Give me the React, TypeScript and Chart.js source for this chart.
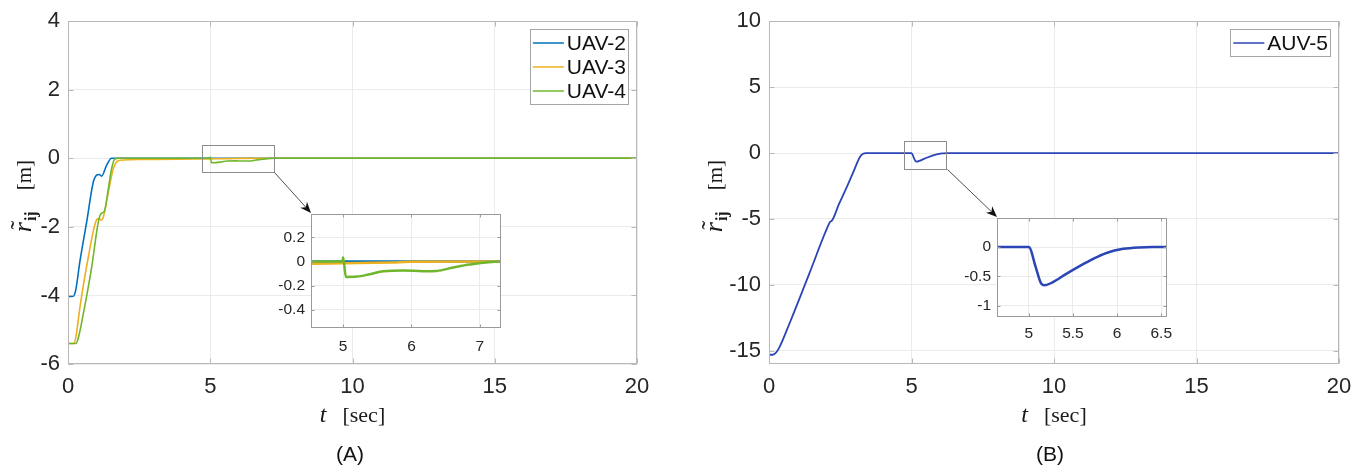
import React, { useEffect, useRef } from "react";
import { Chart, registerables } from "chart.js";

Chart.register(...registerables);

// ---------------- Data: panel (A) ----------------
const uav2Time = [0, 0.18, 0.27, 0.42, 0.66, 0.89, 1.03, 1.1, 1.18, 1.36, 1.53, 1.7, 20];
const uav2Value = [-4.03, -4.02, -3.85, -3.0, -1.84, -0.69, -0.48, -0.47, -0.52, -0.2, 0, 0, 0];

const uav3Time = [0, 0.2, 0.28, 0.42, 0.71, 1.0, 1.08, 1.17, 1.25, 1.42, 1.59, 1.77, 2.2, 3, 4.5, 5.0, 5.7, 6.0, 7.3, 20];
const uav3Value = [-5.4, -5.4, -5.2, -4.34, -2.9, -1.8, -1.76, -1.8, -1.69, -0.98, -0.31, -0.07, -0.04, -0.03, -0.02, -0.015, -0.008, -0.003, 0, 0];

const uav4Time = [0, 0.28, 0.36, 0.54, 0.83, 1.07, 1.18, 1.27, 1.42, 1.53, 1.65, 1.8, 4.99, 5.0, 5.04, 5.2, 5.39, 5.59, 5.88, 6.17, 6.37, 6.61, 6.85, 7.3, 20];
const uav4Value = [-5.4, -5.4, -5.25, -4.53, -3.19, -1.84, -1.6, -1.56, -0.88, -0.31, -0.02, 0, 0, 0.035, -0.128, -0.125, -0.105, -0.08, -0.075, -0.08, -0.078, -0.05, -0.025, 0, 0];

// ---------------- Data: panel (B) ----------------
const auv5Time = [0, 0.12, 0.22, 0.35, 0.73, 1.4, 2.1, 2.15, 2.2, 2.45, 2.72, 2.95, 3.19, 3.3, 3.4, 5.0, 5.08, 5.14, 5.18, 5.27, 5.42, 5.58, 5.73, 5.88, 6.07, 6.25, 6.4, 20];
const auv5Value = [-15.3, -15.3, -15.2, -14.8, -12.87, -9.22, -5.4, -5.2, -5.15, -3.9, -2.63, -1.49, -0.3, -0.06, 0, 0, -0.35, -0.62, -0.65, -0.6, -0.46, -0.32, -0.2, -0.1, -0.03, -0.005, 0, 0];

// ---------------- Axis ranges / ticks ----------------
const panelAXRange = [0, 20];
const panelAXStep = 5;
const panelAYRange = [-6, 4];
const panelAYStep = 2;
const insetAXRange = [4.53, 7.31];
const insetAXStep = 1;
const insetAYRange = [-0.55, 0.39];
const insetAYStep = 0.2;
const zoomAXRange = [4.7, 7.23];
const zoomAYRange = [-0.41, 0.39];

const panelBXRange = [0, 20];
const panelBXStep = 5;
const panelBYRange = [-16, 10];
const panelBYStep = 5;
const insetBXRange = [4.64, 6.565];
const insetBXStep = 0.5;
const insetBYRange = [-1.19, 0.49];
const insetBYStep = 0.5;
const zoomBXRange = [4.74, 6.23];
const zoomBYRange = [-1.18, 0.94];

const panelALabels = ["UAV-2", "UAV-3", "UAV-4"];
const panelAColors = ["#0072BD", "#EDB120", "#70B62C"];
const panelBLabels = ["AUV-5"];
const panelBColors = ["#2A45B5"];

const panelTitles = ["(A)", "(B)"];

type Series = { label: string; t: number[]; v: number[]; color: string };

const seriesA: Series[] = [
  { label: panelALabels[0], t: uav2Time, v: uav2Value, color: panelAColors[0] },
  { label: panelALabels[1], t: uav3Time, v: uav3Value, color: panelAColors[1] },
  { label: panelALabels[2], t: uav4Time, v: uav4Value, color: panelAColors[2] },
];
const seriesB: Series[] = [
  { label: panelBLabels[0], t: auv5Time, v: auv5Value, color: panelBColors[0] },
];

// ---------------- Layout constants ----------------
const SANS = "'Liberation Sans', Arial, sans-serif";
const SERIF = "'Liberation Serif', 'Times New Roman', serif";
const TICK_COLOR = "#262626";
const GRID_COLOR = "#ebebeb";
const FRAME_COLOR = "#b8b8b8";

const PANEL_W = 682;
const PANEL_H = 474;

const fmt = (v: number) => String(Number(Number(v).toFixed(3)));

// ---------------- Plugins ----------------
function framePlugin(color: string, tickLen: number, fillWhite: boolean) {
  return {
    id: "frame",
    beforeDraw(chart: any) {
      if (!fillWhite) return;
      const a = chart.chartArea;
      const ctx = chart.ctx;
      ctx.save();
      ctx.fillStyle = "#ffffff";
      ctx.fillRect(a.left, a.top, a.right - a.left, a.bottom - a.top);
      ctx.restore();
    },
    afterDatasetsDraw(chart: any) {
      const a = chart.chartArea;
      const ctx = chart.ctx;
      const xs = chart.scales.x;
      const ys = chart.scales.y;
      ctx.save();
      ctx.strokeStyle = color;
      ctx.lineWidth = 1;
      const l = Math.round(a.left) + 0.5;
      const r = Math.round(a.right) - 0.5;
      const t = Math.round(a.top) + 0.5;
      const b = Math.round(a.bottom) - 0.5;
      ctx.strokeRect(l, t, r - l, b - t);
      ctx.beginPath();
      for (const tk of xs.ticks) {
        const px = Math.round(xs.getPixelForValue(tk.value)) + 0.5;
        ctx.moveTo(px, b);
        ctx.lineTo(px, b - tickLen);
        ctx.moveTo(px, t);
        ctx.lineTo(px, t + tickLen);
      }
      for (const tk of ys.ticks) {
        const py = Math.round(ys.getPixelForValue(tk.value)) + 0.5;
        ctx.moveTo(l, py);
        ctx.lineTo(l + tickLen, py);
        ctx.moveTo(r, py);
        ctx.lineTo(r - tickLen, py);
      }
      ctx.stroke();
      ctx.restore();
    },
  };
}

function zoomMarkPlugin(xr: number[], yr: number[], target: { x: number; y: number }) {
  return {
    id: "zoomMark",
    afterDatasetsDraw(chart: any) {
      const ctx = chart.ctx;
      const xs = chart.scales.x;
      const ys = chart.scales.y;
      const x0 = xs.getPixelForValue(xr[0]);
      const x1 = xs.getPixelForValue(xr[1]);
      const y0 = ys.getPixelForValue(yr[1]);
      const y1 = ys.getPixelForValue(yr[0]);
      ctx.save();
      ctx.strokeStyle = "#8c8c8c";
      ctx.lineWidth = 1;
      ctx.strokeRect(Math.round(x0) + 0.5, Math.round(y0) + 0.5, Math.round(x1 - x0), Math.round(y1 - y0));
      const sx = Math.round(x1) + 0.5;
      const sy = Math.round(y1) + 0.5;
      const tx = target.x;
      const ty = target.y;
      const ang = Math.atan2(ty - sy, tx - sx);
      const headL = 11;
      const headW = 4.5;
      ctx.strokeStyle = "#3a3a3a";
      ctx.lineWidth = 0.9;
      ctx.beginPath();
      ctx.moveTo(sx, sy);
      ctx.lineTo(tx - Math.cos(ang) * headL * 0.7, ty - Math.sin(ang) * headL * 0.7);
      ctx.stroke();
      ctx.translate(tx, ty);
      ctx.rotate(ang);
      ctx.fillStyle = "#111111";
      ctx.beginPath();
      ctx.moveTo(0, 0);
      ctx.lineTo(-headL, -headW);
      ctx.lineTo(-headL * 0.7, 0);
      ctx.lineTo(-headL, headW);
      ctx.closePath();
      ctx.fill();
      ctx.restore();
    },
  };
}

function axisTitlePlugin(yTitleX: number) {
  return {
    id: "axisTitles",
    afterDraw(chart: any) {
      const ctx = chart.ctx;
      const a = chart.chartArea;
      ctx.save();
      ctx.fillStyle = "#1a1a1a";
      ctx.textAlign = "left";
      ctx.textBaseline = "alphabetic";
      // x title: t  [sec]
      const italic = `italic 24px ${SERIF}`;
      const roman = `22px ${SERIF}`;
      ctx.font = italic;
      const tW = ctx.measureText("t").width;
      ctx.font = roman;
      const sW = ctx.measureText("[sec]").width;
      const gap = 16;
      const total = tW + gap + sW;
      const cx = (a.left + a.right) / 2;
      const by = a.bottom + 58;
      const x0 = cx - total / 2;
      ctx.font = italic;
      ctx.fillText("t", x0, by);
      ctx.font = roman;
      ctx.fillText("[sec]", x0 + tW + gap, by);
      // y title: r~ij  [m]
      const cy = (a.top + a.bottom) / 2 + 3.5;
      ctx.translate(yTitleX, cy);
      ctx.rotate(-Math.PI / 2);
      const rFont = `italic 26px ${SERIF}`;
      const subFont = `bold 16px ${SERIF}`;
      const mFont = `21px ${SERIF}`;
      ctx.font = rFont;
      const rW = ctx.measureText("r").width;
      ctx.font = subFont;
      const ijW = ctx.measureText("ij").width;
      ctx.font = mFont;
      const mW = ctx.measureText("[m]").width;
      const g2 = 21;
      const tot = rW + 1 + ijW + g2 + mW;
      let p = -tot / 2;
      ctx.font = rFont;
      ctx.fillText("r", p, 0);
      ctx.font = `26px ${SERIF}`;
      ctx.textAlign = "center";
      ctx.fillText("\u02DC", p + rW / 2 + 2, -3);
      ctx.textAlign = "left";
      p += rW + 1;
      ctx.font = subFont;
      ctx.fillText("ij", p, 5);
      p += ijW + g2;
      ctx.font = mFont;
      ctx.fillText("[m]", p, 0);
      ctx.restore();
    },
  };
}

const boxLegendPlugin = {
  id: "boxLegend",
  afterDraw(chart: any) {
    const ctx = chart.ctx;
    const a = chart.chartArea;
    const ds = chart.data.datasets;
    ctx.save();
    ctx.font = `21px ${SANS}`;
    const maxW = Math.max(...ds.map((d: any) => ctx.measureText(d.label).width));
    const padL = 3;
    const lineLen = 31;
    const gapT = 3;
    const padR = 2;
    const rowH = 24;
    const boxW = padL + lineLen + gapT + maxW + padR;
    const boxH = ds.length * rowH + 3;
    const right = Math.round(a.right) - 9;
    const top = Math.round(a.top) + 8;
    const left = right - boxW;
    ctx.fillStyle = "#ffffff";
    ctx.fillRect(left, top, boxW, boxH);
    ctx.strokeStyle = "#a6a6a6";
    ctx.lineWidth = 1;
    ctx.strokeRect(Math.round(left) + 0.5, top + 0.5, Math.round(boxW), boxH);
    ctx.textBaseline = "middle";
    ctx.textAlign = "left";
    ds.forEach((d: any, i: number) => {
      const cy = top + 2 + rowH / 2 + i * rowH;
      ctx.strokeStyle = d.borderColor;
      ctx.lineWidth = 1.5;
      ctx.beginPath();
      ctx.moveTo(left + padL, cy);
      ctx.lineTo(left + padL + lineLen, cy);
      ctx.stroke();
      ctx.fillStyle = "#111111";
      ctx.fillText(d.label, left + padL + lineLen + gapT, cy + 1);
    });
    ctx.restore();
  },
};

// ---------------- Config builders ----------------
function makeDatasets(series: Series[], width: number) {
  return series.map((s, idx) => ({
    label: s.label,
    data: s.t.map((t, i) => ({ x: t, y: s.v[i] })),
    borderColor: s.color,
    backgroundColor: s.color,
    borderWidth: width,
    pointRadius: 0,
    cubicInterpolationMode: "monotone",
    fill: false,
    order: -idx,
  }));
}

type MainSpec = {
  series: Series[];
  xr: number[];
  xStep: number;
  yr: number[];
  yStep: number;
  yAxisW: number;
  padRight: number;
  zoomX: number[];
  zoomY: number[];
  arrowTarget: { x: number; y: number };
  yTitleX: number;
  lineW: number;
};

function mainConfig(p: MainSpec): any {
  const plotTop = 17;
  const plotBottom = 364;
  const xAxisH = 60;
  return {
    type: "line",
    data: { datasets: makeDatasets(p.series, p.lineW) },
    options: {
      animation: false,
      responsive: false,
      events: [],
      layout: { padding: { top: plotTop, right: p.padRight, bottom: PANEL_H - plotBottom - xAxisH, left: 0 } },
      plugins: { legend: { display: false }, tooltip: { enabled: false }, title: { display: false } },
      scales: {
        x: {
          type: "linear",
          min: p.xr[0],
          max: p.xr[1],
          ticks: { stepSize: p.xStep, includeBounds: false, maxRotation: 0, padding: 10, color: TICK_COLOR, font: { family: SANS, size: 22 }, callback: fmt },
          grid: { color: GRID_COLOR, drawTicks: false },
          border: { display: false },
          afterFit: (s: any) => { s.height = xAxisH; },
        },
        y: {
          type: "linear",
          min: p.yr[0],
          max: p.yr[1],
          ticks: { stepSize: p.yStep, includeBounds: false, padding: 8, color: TICK_COLOR, font: { family: SANS, size: 22 }, callback: fmt },
          grid: { color: GRID_COLOR, drawTicks: false },
          border: { display: false },
          afterFit: (s: any) => { s.width = p.yAxisW; },
        },
      },
    },
    plugins: [
      framePlugin(FRAME_COLOR, 5, false),
      zoomMarkPlugin(p.zoomX, p.zoomY, p.arrowTarget),
      axisTitlePlugin(p.yTitleX),
      boxLegendPlugin,
    ],
  };
}

type InsetSpec = {
  series: Series[];
  xr: number[];
  xStep: number;
  yr: number[];
  yStep: number;
  yAxisW: number;
  padTop: number;
  padRight: number;
  xAxisH: number;
  xPad: number;
};

function insetConfig(p: InsetSpec): any {
  return {
    type: "line",
    data: { datasets: makeDatasets(p.series, 2.5) },
    options: {
      animation: false,
      responsive: false,
      events: [],
      layout: { padding: { top: p.padTop, right: p.padRight, bottom: 0, left: 0 } },
      plugins: { legend: { display: false }, tooltip: { enabled: false } },
      scales: {
        x: {
          type: "linear",
          min: p.xr[0],
          max: p.xr[1],
          ticks: { stepSize: p.xStep, includeBounds: false, maxRotation: 0, padding: p.xPad, color: TICK_COLOR, font: { family: SANS, size: 15.5 }, callback: fmt },
          grid: { color: GRID_COLOR, drawTicks: false },
          border: { display: false },
          afterFit: (s: any) => { s.height = p.xAxisH; },
        },
        y: {
          type: "linear",
          min: p.yr[0],
          max: p.yr[1],
          ticks: { stepSize: p.yStep, includeBounds: false, padding: 6, color: TICK_COLOR, font: { family: SANS, size: 15.5 }, callback: fmt },
          grid: { color: GRID_COLOR, drawTicks: false },
          border: { display: false },
          afterFit: (s: any) => { s.width = p.yAxisW; },
        },
      },
    },
    plugins: [framePlugin("#9a9a9a", 3, true)],
  };
}

// ---------------- Components ----------------
function ChartCanvas(props: { left: number; top: number; width: number; height: number; config: () => any }) {
  const ref = useRef<HTMLCanvasElement | null>(null);
  useEffect(() => {
    if (!ref.current) return;
    const chart = new Chart(ref.current, props.config());
    return () => chart.destroy();
  }, []);
  return (
    <canvas
      ref={ref}
      width={props.width}
      height={props.height}
      style={{ position: "absolute", left: props.left, top: props.top, width: props.width, height: props.height, display: "block" }}
    />
  );
}

// inset boxes (page pixel coordinates of plot areas)
const insetABox = { left: 311, top: 213, right: 501, bottom: 328 };
const insetBBox = { left: 997, top: 217, right: 1167, bottom: 317 };
const INSET_YAXIS_W = 45;
const INSET_PAD_TOP = 14;
const INSET_XAXIS_H = 32;

export default function App() {
  const insetAW = INSET_YAXIS_W + (insetABox.right - insetABox.left) + 12;
  const insetAH = INSET_PAD_TOP + (insetABox.bottom - insetABox.top) + INSET_XAXIS_H;
  const insetBW = INSET_YAXIS_W + (insetBBox.right - insetBBox.left) + 16;
  const insetBH = INSET_PAD_TOP + (insetBBox.bottom - insetBBox.top) + INSET_XAXIS_H;
  return (
    <div style={{ position: "absolute", left: 0, top: 0, width: 1364, height: 474, background: "#ffffff", overflow: "hidden" }}>
      <ChartCanvas
        left={0}
        top={0}
        width={PANEL_W}
        height={PANEL_H}
        config={() =>
          mainConfig({
            series: seriesA,
            xr: panelAXRange,
            xStep: panelAXStep,
            yr: panelAYRange,
            yStep: panelAYStep,
            yAxisW: 68,
            padRight: PANEL_W - 637,
            zoomX: zoomAXRange,
            zoomY: zoomAYRange,
            arrowTarget: { x: insetABox.left, y: insetABox.top },
            yTitleX: 31,
            lineW: 1.6,
          })
        }
      />
      <ChartCanvas
        left={PANEL_W}
        top={0}
        width={PANEL_W}
        height={PANEL_H}
        config={() =>
          mainConfig({
            series: seriesB,
            xr: panelBXRange,
            xStep: panelBXStep,
            yr: panelBYRange,
            yStep: panelBYStep,
            yAxisW: 769 - PANEL_W,
            padRight: 2 * PANEL_W - 1339,
            zoomX: zoomBXRange,
            zoomY: zoomBYRange,
            arrowTarget: { x: insetBBox.left - PANEL_W, y: insetBBox.top },
            yTitleX: 40,
            lineW: 1.8,
          })
        }
      />
      <ChartCanvas
        left={insetABox.left - INSET_YAXIS_W}
        top={insetABox.top - INSET_PAD_TOP}
        width={insetAW}
        height={insetAH}
        config={() =>
          insetConfig({
            series: seriesA,
            xr: insetAXRange,
            xStep: insetAXStep,
            yr: insetAYRange,
            yStep: insetAYStep,
            yAxisW: INSET_YAXIS_W,
            padTop: INSET_PAD_TOP,
            padRight: 12,
            xAxisH: INSET_XAXIS_H,
            xPad: 9,
          })
        }
      />
      <ChartCanvas
        left={insetBBox.left - INSET_YAXIS_W}
        top={insetBBox.top - INSET_PAD_TOP}
        width={insetBW}
        height={insetBH}
        config={() =>
          insetConfig({
            series: seriesB,
            xr: insetBXRange,
            xStep: insetBXStep,
            yr: insetBYRange,
            yStep: insetBYStep,
            yAxisW: INSET_YAXIS_W,
            padTop: INSET_PAD_TOP,
            padRight: 16,
            xAxisH: INSET_XAXIS_H,
            xPad: 7,
          })
        }
      />
      <div style={{ position: "absolute", left: 350, top: 454, transform: "translate(-50%, -50%)", font: `21px ${SANS}`, color: "#111", whiteSpace: "nowrap" }}>
        {panelTitles[0]}
      </div>
      <div style={{ position: "absolute", left: 1050, top: 454, transform: "translate(-50%, -50%)", font: `21px ${SANS}`, color: "#111", whiteSpace: "nowrap" }}>
        {panelTitles[1]}
      </div>
    </div>
  );
}
